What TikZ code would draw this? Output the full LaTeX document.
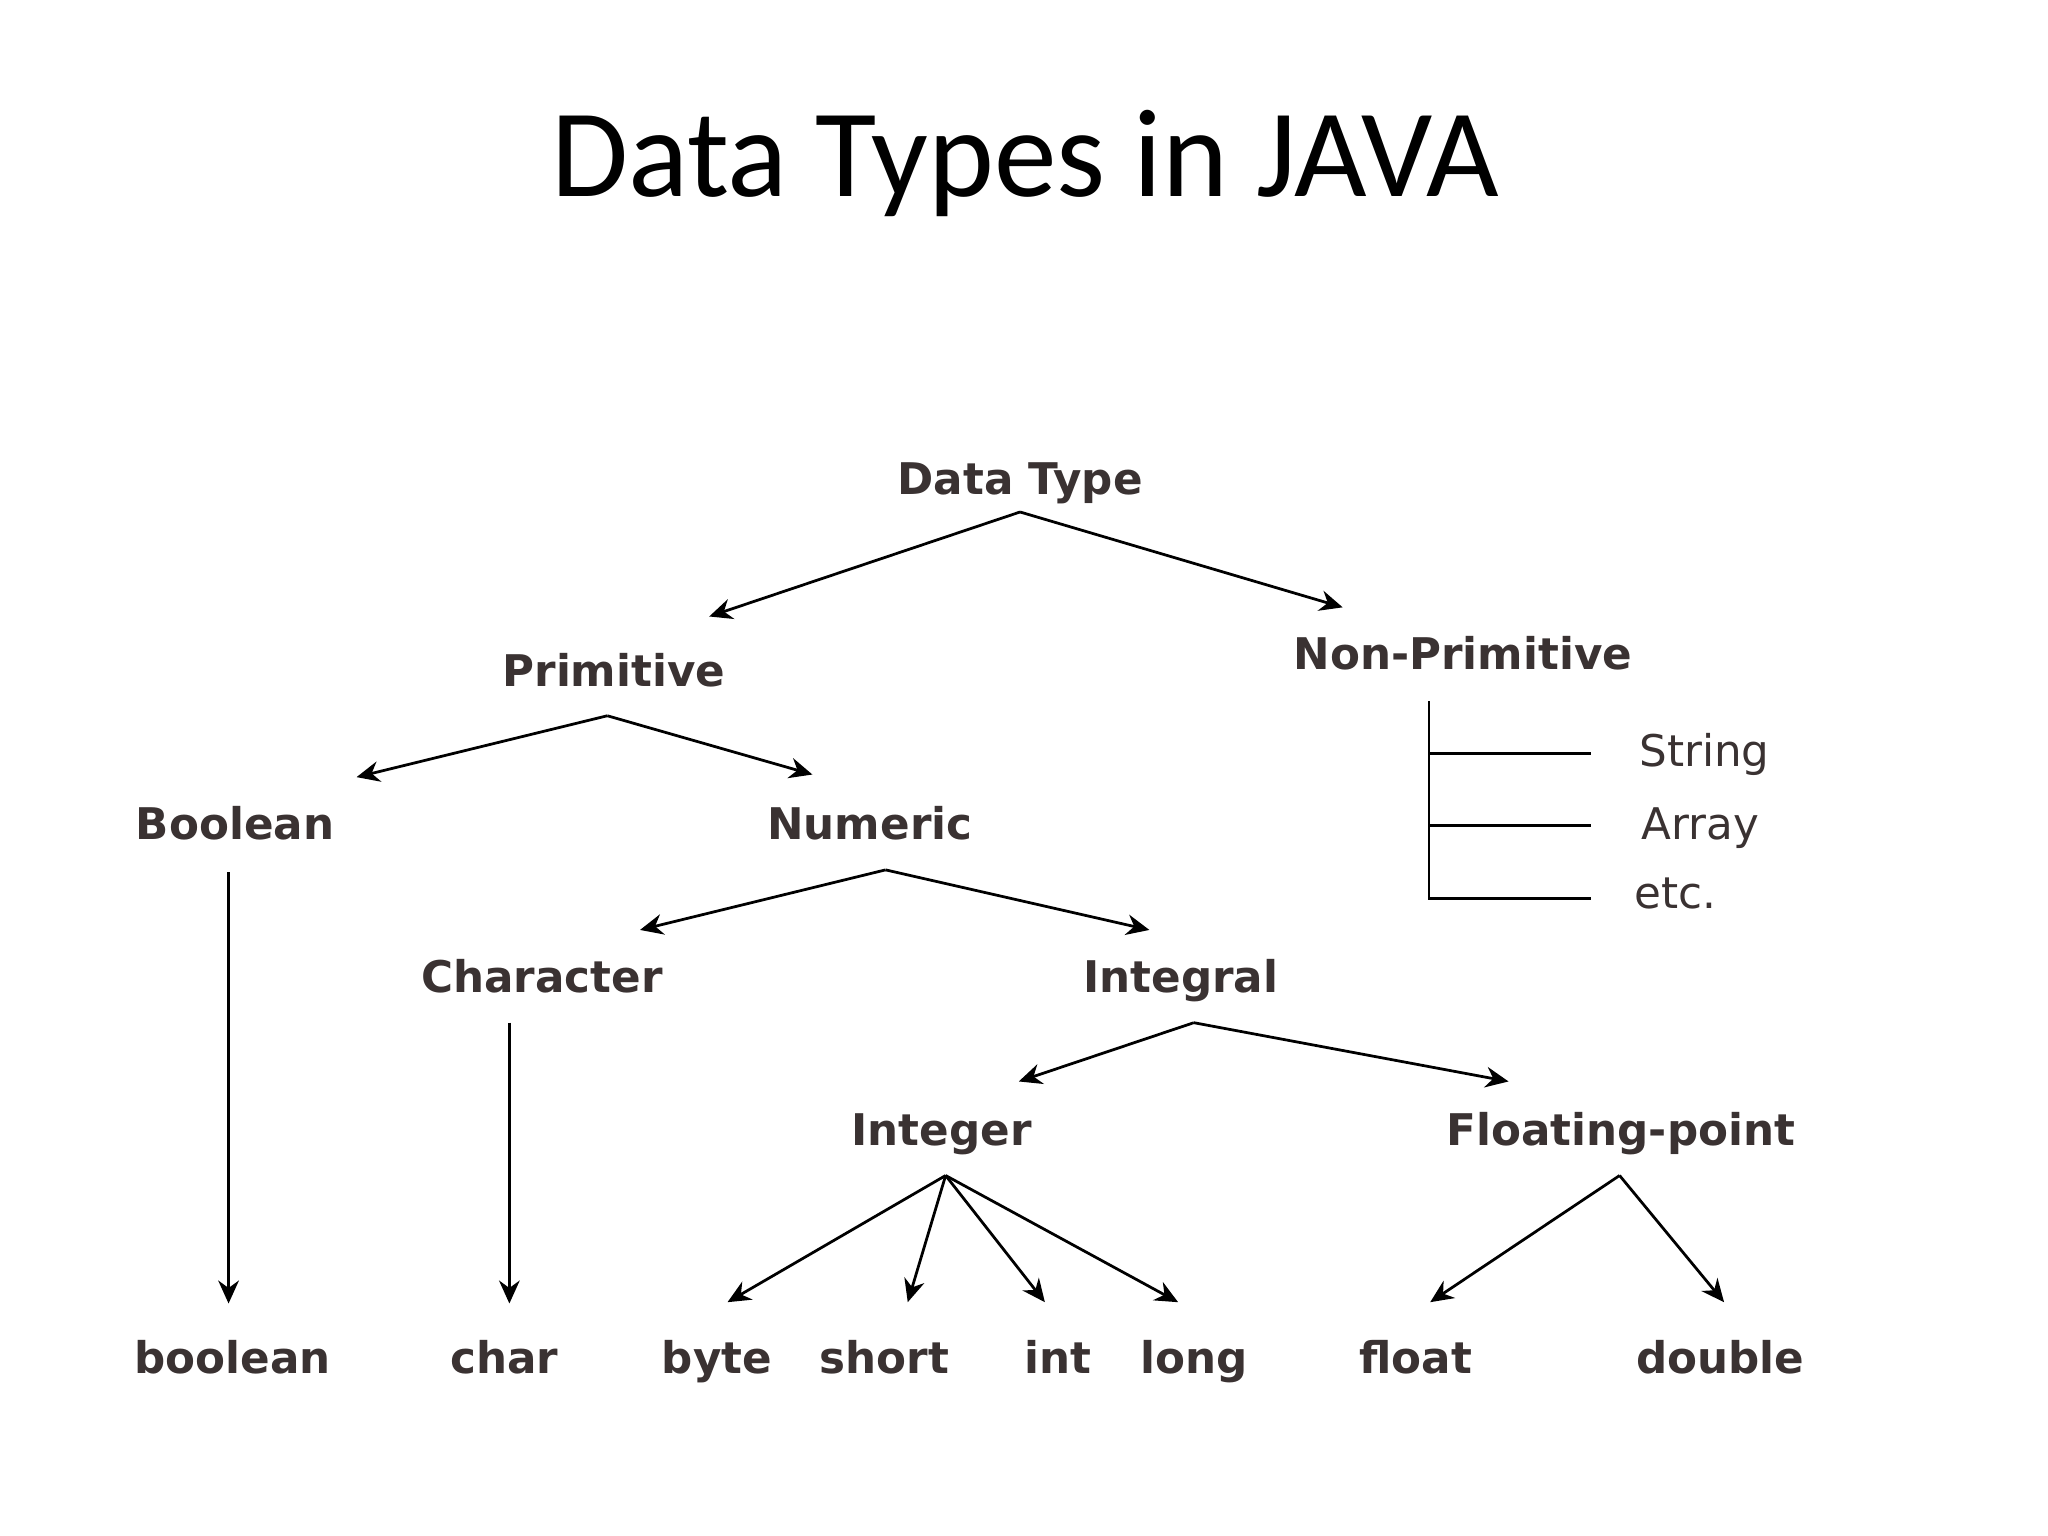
\documentclass[tikz,border=0pt]{standalone}
\usepackage{fontspec}
\setmainfont{DejaVu Sans}
\newfontfamily\titlefont{Carlito}
\usetikzlibrary{arrows.meta}
\definecolor{lab}{HTML}{3A3232}
\tikzset{lbl/.style={font=\bfseries\fontsize{9.5}{11}\selectfont, text=lab, inner sep=0pt, text height=7pt, text depth=2pt},
 nlbl/.style={font=\fontsize{9.5}{11}\selectfont, text=lab, inner sep=0pt, text height=7pt, text depth=2pt},
 arr/.style={-{Stealth[length=5pt,width=4.5pt]}, line width=0.6pt},
 ln/.style={line width=0.6pt}}
\begin{document}
\begin{tikzpicture}[x=0.01cm,y=-0.01cm]
\useasboundingbox (0,0) rectangle (1568,1176);
\node[font=\titlefont\fontsize{27.3}{32}\selectfont] (title) at (785,125) {Data Types in JAVA};
\node[lbl] (dt) at (781,370) {Data Type};
\node[lbl] (prim) at (470,517) {Primitive};
\node[lbl] (nonp) at (1120,504) {Non-Primitive};
\node[lbl] (bool) at (180,634) {Boolean};
\node[lbl] (num) at (666,634) {Numeric};
\node[lbl] (chr) at (415,751) {Character};
\node[lbl] (intg) at (904,751) {Integral};
\node[lbl] (inte) at (721,868) {Integer};
\node[lbl] (flp) at (1241,868) {Floating-point};
\node[lbl] (lbool) at (178,1043) {boolean};
\node[lbl] (lchar) at (386,1043) {char};
\node[lbl] (lbyte) at (549,1043) {byte};
\node[lbl] (lshort) at (677,1043) {short};
\node[lbl] (lint) at (810,1043) {int};
\node[lbl] (llong) at (914,1043) {long};
\node[lbl] (lfloat) at (1084,1043) {float};
\node[lbl] (ldouble) at (1317,1043) {double};
\node[nlbl] (str) at (1305,578) {String};
\node[nlbl] (arr) at (1302,634) {Array};
\node[nlbl] (etc) at (1283,687) {etc.};
% coordinates
\coordinate (dtb) at (781,392);
\coordinate (primt) at (543,472); \coordinate (nonpt) at (1028,465);
\coordinate (primb) at (465,548);
\coordinate (boolt) at (273,595); \coordinate (numt) at (622,593);
\coordinate (numb) at (678,666);
\coordinate (chrt) at (490,712); \coordinate (intgt) at (880,712);
\coordinate (intgb) at (914,783);
\coordinate (intet) at (780,828); \coordinate (flpt) at (1155,828);
\coordinate (inteb) at (724,900);
\coordinate (byt) at (557,997); \coordinate (sht) at (695,997);
\coordinate (int) at (800,997); \coordinate (lot) at (902,997);
\coordinate (flpb) at (1240,900);
\coordinate (flt) at (1095,997); \coordinate (dot) at (1320,997);
\coordinate (boolb) at (175,668); \coordinate (lboolt) at (175,998);
\coordinate (chrb) at (390,783); \coordinate (lchart) at (390,998);
\coordinate (v1) at (1094,537); \coordinate (v2) at (1094,688);
\coordinate (h1) at (1094,577); \coordinate (h1e) at (1218,577);
\coordinate (h2) at (1094,632); \coordinate (h2e) at (1218,632);
\coordinate (h3e) at (1218,688);
\draw[arr] (dtb) -- (primt); \draw[arr] (dtb) -- (nonpt);
\draw[arr] (primb) -- (boolt); \draw[arr] (primb) -- (numt);
\draw[arr] (numb) -- (chrt); \draw[arr] (numb) -- (intgt);
\draw[arr] (intgb) -- (intet); \draw[arr] (intgb) -- (flpt);
\draw[arr] (inteb) -- (byt); \draw[arr] (inteb) -- (sht);
\draw[arr] (inteb) -- (int); \draw[arr] (inteb) -- (lot);
\draw[arr] (flpb) -- (flt); \draw[arr] (flpb) -- (dot);
\draw[arr] (boolb) -- (lboolt); \draw[arr] (chrb) -- (lchart);
\draw[ln] (v1) -- (v2) -- (h3e);
\draw[ln] (h1) -- (h1e); \draw[ln] (h2) -- (h2e);
\end{tikzpicture}
\end{document}
